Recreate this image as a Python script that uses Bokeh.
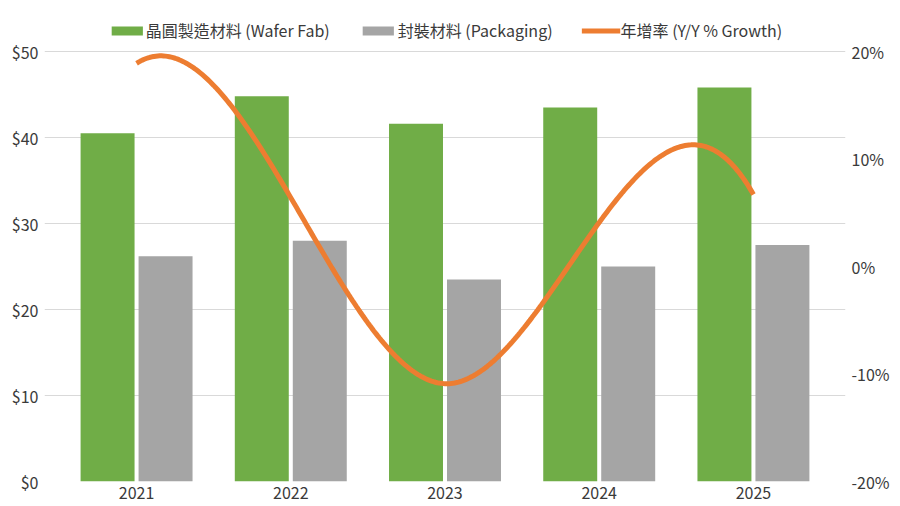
import numpy as np
from bokeh.plotting import figure
from bokeh.models import Range1d, LinearAxis, FixedTicker, Legend, LegendItem
from bokeh.embed import file_html
from bokeh.resources import INLINE

# ---------------- data ----------------
years = ["2021", "2022", "2023", "2024", "2025"]
wafer_fab = [40.5, 44.8, 41.6, 43.5, 45.8]      # US$ billion
packaging = [26.2, 28.0, 23.5, 25.0, 27.5]      # US$ billion
yoy_growth = [18.9, 6.4, -10.9, 4.1, 6.7]       # %
usd_ticks = [0, 10, 20, 30, 40, 50]
usd_labels = ["$0", "$10", "$20", "$30", "$40", "$50"]
pct_ticks = [-20, -10, 0, 10, 20]
pct_labels = ["-20%", "-10%", "0%", "10%", "20%"]
legend_labels = ["晶圓製造材料 (Wafer Fab)", "封裝材料 (Packaging)", "年增率 (Y/Y % Growth)"]

FONT = "Noto Sans CJK TC"
GREEN, GRAY, ORANGE = "#70AD47", "#A5A5A5", "#ED7D31"
TEXT = "#3A3A3A"
FS = "16px"

pos = np.arange(len(years), dtype=float)


def smooth_curve(ys, samples=80):
    """Not-a-knot cubic spline through the points (unit spacing) for drawing."""
    ys = np.asarray(ys, dtype=float)
    n = len(ys)
    A = np.zeros((n, n))
    b = np.zeros(n)
    A[0, 0:3] = [1, -2, 1]
    A[n - 1, n - 3:n] = [1, -2, 1]
    for i in range(1, n - 1):
        A[i, i - 1:i + 2] = [1, 4, 1]
        b[i] = 6 * (ys[i + 1] - 2 * ys[i] + ys[i - 1])
    M = np.linalg.solve(A, b)
    xs_out, ys_out = [], []
    for i in range(n - 1):
        t = np.linspace(0, 1, samples, endpoint=(i == n - 2))
        s = ((1 - t) * ys[i] + t * ys[i + 1]
             + ((1 - t) ** 3 - (1 - t)) * M[i] / 6
             + (t ** 3 - t) * M[i + 1] / 6)
        xs_out.append(i + t)
        ys_out.append(s)
    return np.concatenate(xs_out), np.concatenate(ys_out)


# frame runs from y=8 (room for the legend) down to the $0 line;
# $0..$50 spans 430 px, -20%..20% spans the same pixels
p = figure(width=892, height=506,
           x_range=Range1d(-0.597, 4.597), y_range=Range1d(0, 55.0),
           output_backend="svg", toolbar_location=None,
           min_border_left=44, min_border_right=46,
           min_border_top=8, min_border_bottom=25)
p.extra_y_ranges = {"pct": Range1d(-20, 24.0)}
p.outline_line_color = None
p.background_fill_color = "white"
p.border_fill_color = "white"

r_fab = p.vbar(x=pos - 0.188, top=wafer_fab, width=0.35, bottom=0,
               fill_color=GREEN, line_color=None)
r_pkg = p.vbar(x=pos + 0.188, top=packaging, width=0.35, bottom=0,
               fill_color=GRAY, line_color=None)
cx, cy = smooth_curve(yoy_growth)
r_yoy = p.line(cx, cy, y_range_name="pct", line_color=ORANGE, line_width=5)


def style_axis(ax, standoff):
    ax.axis_line_color = None
    ax.major_tick_line_color = None
    ax.minor_tick_line_color = None
    ax.major_tick_out = 0
    ax.major_tick_in = 0
    ax.minor_tick_out = 0
    ax.major_label_standoff = standoff
    ax.major_label_text_font = FONT
    ax.major_label_text_font_size = FS
    ax.major_label_text_color = TEXT


xax = p.xaxis[0]
xax.ticker = FixedTicker(ticks=list(range(len(years))))
xax.major_label_overrides = {i: y for i, y in enumerate(years)}
style_axis(xax, 5)

yax = p.yaxis[0]
yax.ticker = FixedTicker(ticks=usd_ticks)
yax.major_label_overrides = {t: l for t, l in zip(usd_ticks, usd_labels)}
style_axis(yax, 6)

rax = LinearAxis(y_range_name="pct", ticker=FixedTicker(ticks=pct_ticks),
                 major_label_overrides={t: l for t, l in zip(pct_ticks, pct_labels)})
style_axis(rax, 6)
p.add_layout(rax, "right")

p.xgrid.visible = False
p.ygrid.grid_line_color = "#D9D9D9"
p.ygrid.grid_line_width = 1

legend = Legend(items=[LegendItem(label=legend_labels[0], renderers=[r_fab]),
                       LegendItem(label=legend_labels[1], renderers=[r_pkg]),
                       LegendItem(label=legend_labels[2], renderers=[r_yoy])],
                orientation="horizontal", location="top_center",
                glyph_width=39, glyph_height=11, label_standoff=0, spacing=29,
                padding=4, margin=10, border_line_color=None,
                background_fill_alpha=0,
                label_text_font=FONT, label_text_font_size=FS,
                label_text_color=TEXT)
p.add_layout(legend, "center")

open("out.html", "w").write(file_html(p, INLINE))
